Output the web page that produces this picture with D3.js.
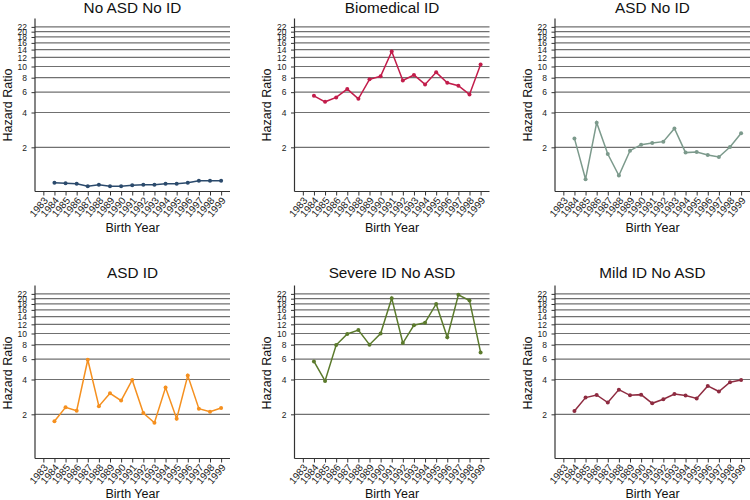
<!DOCTYPE html>
<html><head><meta charset="utf-8">
<script src="https://cdn.jsdelivr.net/npm/d3@7"></script>
<style>body{margin:0;background:#fff}svg{display:block}</style>
</head><body>
<svg id="c" width="750" height="500"></svg>
<script>
const tickYears = [1983,1984,1985,1986,1987,1988,1989,1990,1991,1992,1993,1994,1995,1996,1997,1998,1999];
const dataYears = [1984,1985,1986,1987,1988,1989,1990,1991,1992,1993,1994,1995,1996,1997,1998,1999];
const yTicks = [2,4,6,8,10,12,14,16,18,20,22];
const titles = ["No ASD No ID","Biomedical ID","ASD No ID","ASD ID","Severe ID No ASD","Mild ID No ASD"];
const colors = ["#2b4a6c","#c21d4b","#7c9a8c","#f5901f","#5b7a2c","#8e2b40"];
const noAsdNoId   = [0.99,0.98,0.97,0.92,0.95,0.92,0.92,0.94,0.95,0.95,0.97,0.97,0.99,1.03,1.03,1.03];
const biomedicalId = [5.58,4.95,5.40,6.38,5.26,7.74,8.22,13.5,7.58,8.44,7.00,8.90,7.24,6.82,5.73,10.4];
const asdNoId     = [2.39,1.06,3.27,1.75,1.14,1.87,2.11,2.18,2.24,2.91,1.80,1.82,1.72,1.65,2.01,2.65];
const asdId       = [1.74,2.30,2.15,5.93,2.35,3.04,2.63,3.97,2.05,1.69,3.41,1.83,4.33,2.24,2.11,2.27];
const severeIdNoAsd = [5.73,3.89,7.94,9.90,10.7,8.00,10.0,20.2,8.27,11.8,12.4,18.0,9.26,21.6,19.3,6.86];
const mildIdNoAsd = [2.14,2.79,2.94,2.53,3.27,2.92,2.96,2.49,2.70,3.00,2.91,2.74,3.52,3.15,3.79,3.97];
const seriesValues = [noAsdNoId, biomedicalId, asdNoId, asdId, severeIdNoAsd, mildIdNoAsd];

const svg = d3.select("#c");
const FONT = "'Liberation Sans', Arial, sans-serif";
const colX = [35, 294.5, 555];
const rows = [{top:18.5, bottom:191.5, title:12.5, xlab:231.7, ylab:105},
              {top:285.5, bottom:458.5, title:277.7, xlab:498, ylab:373}];
const plotW = 195;

seriesValues.forEach((vals, i) => {
  const r = rows[Math.floor(i/3)];
  const x0 = colX[i%3];
  const x1 = x0 + plotW;
  const g = svg.append("g");
  const x = d3.scaleLinear().domain([1982.25, 1999.8]).range([x0, x1]);
  const y = d3.scaleLog().domain([0.83, 26]).range([r.bottom, r.top]);

  // grid lines
  g.append("g").selectAll("line").data(yTicks).join("line")
    .attr("x1", x0).attr("x2", Math.min(x1, 750))
    .attr("y1", d => y(d)).attr("y2", d => y(d))
    .attr("stroke", "#707070").attr("stroke-width", 1.2);

  // y axis
  const ya = d3.axisLeft(y).tickValues(yTicks).tickFormat(d3.format("d")).tickSize(3.5).tickPadding(4.5);
  const yg = g.append("g").attr("transform", `translate(${x0},0)`).call(ya);
  yg.select(".domain").attr("stroke", "#333").attr("stroke-width", 1.2).attr("d", `M-0,${r.top}V${r.bottom}`);
  yg.selectAll(".tick line").attr("stroke", "#333");
  yg.selectAll("text").attr("font-family", FONT).attr("font-size", 8.5).attr("fill", "#222");

  // x axis
  const xa = d3.axisBottom(x).tickValues(tickYears).tickFormat(d3.format("d")).tickSize(4).tickPadding(2);
  const xg = g.append("g").attr("transform", `translate(0,${r.bottom})`).call(xa);
  xg.select(".domain").attr("stroke", "#333").attr("stroke-width", 1.2).attr("d", `M${x0},0H${Math.min(x1,750)}`);
  xg.selectAll(".tick line").attr("stroke", "#333");
  xg.selectAll("text").attr("font-family", FONT).attr("font-size", 10).attr("fill", "#222")
    .attr("text-anchor", "end").attr("y", 0).attr("dy", "0.35em")
    .attr("transform", "translate(2,7) rotate(-50)");

  // line
  const pts = dataYears.map((yr, k) => [yr, vals[k]]);
  g.append("path").datum(pts)
    .attr("fill", "none").attr("stroke", colors[i]).attr("stroke-width", 1.5)
    .attr("d", d3.line().x(d => x(d[0])).y(d => y(d[1])));
  g.append("g").selectAll("circle").data(pts).join("circle")
    .attr("cx", d => x(d[0])).attr("cy", d => y(d[1])).attr("r", 2)
    .attr("fill", colors[i]);

  // title
  const cx = (x0 + x1) / 2;
  g.append("text").attr("x", cx).attr("y", r.title).attr("text-anchor", "middle")
    .attr("font-family", FONT).attr("font-size", 15.3).attr("fill", "#111").text(titles[i]);
  // axis titles
  g.append("text").attr("x", cx).attr("y", r.xlab).attr("text-anchor", "middle")
    .attr("font-family", FONT).attr("font-size", 12.5).attr("fill", "#111").text("Birth Year");
  g.append("text").attr("transform", `translate(${x0 - 23.5},${r.ylab}) rotate(-90)`)
    .attr("text-anchor", "middle")
    .attr("font-family", FONT).attr("font-size", 12.5).attr("fill", "#111").text("Hazard Ratio");
});
</script>
</body></html>
